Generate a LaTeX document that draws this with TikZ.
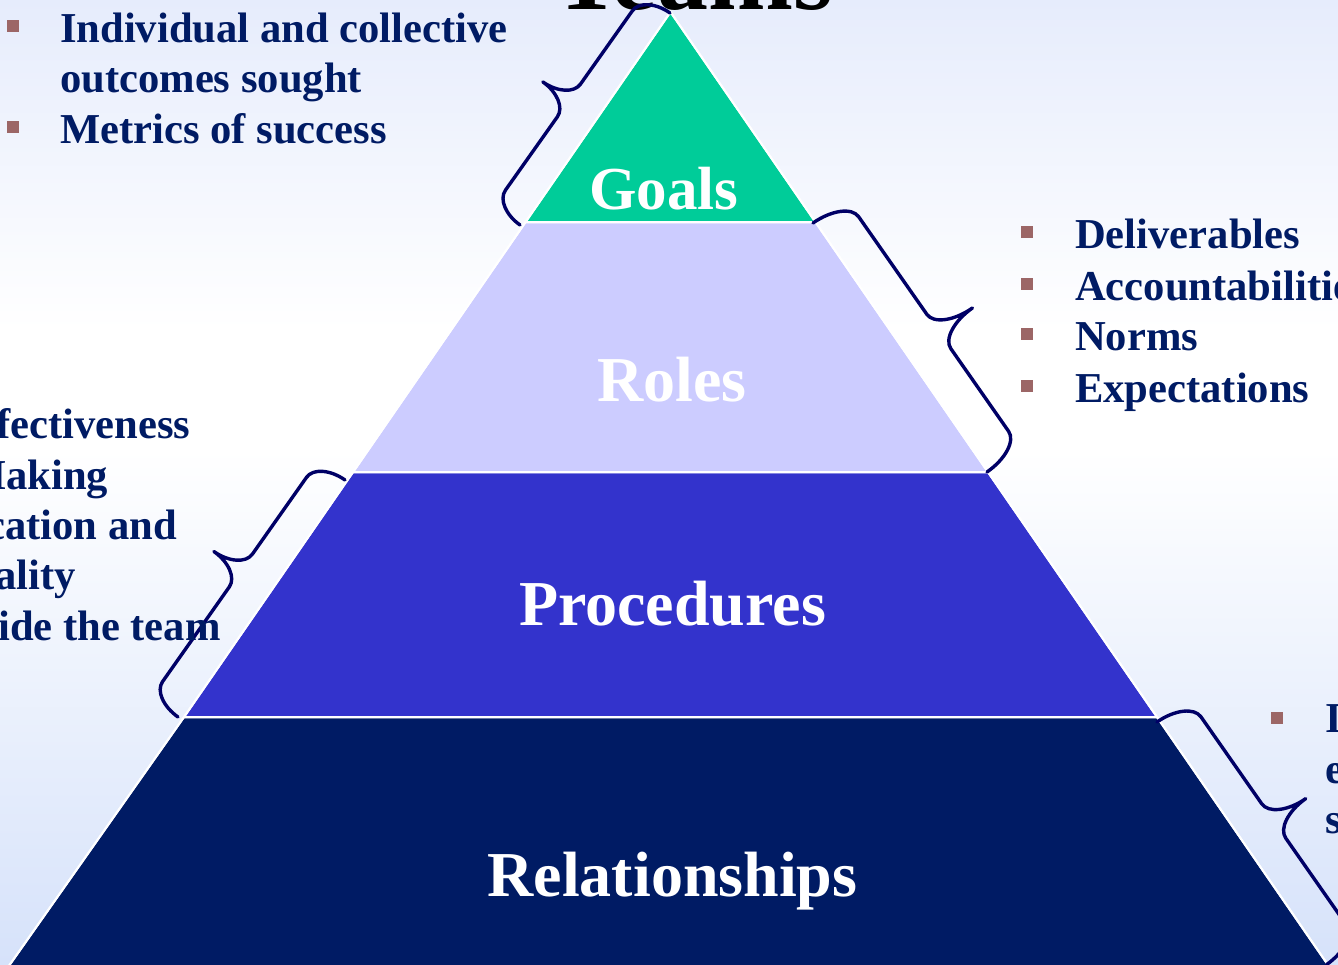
\documentclass[tikz,border=0pt]{standalone}
\usepackage{fontspec}
\setmainfont{Liberation Serif}
\definecolor{navytext}{RGB}{0,27,100}
\definecolor{bracecol}{RGB}{0,0,102}
\definecolor{bulletcol}{RGB}{156,102,102}
\definecolor{goalcol}{RGB}{0,204,153}
\definecolor{rolecol}{RGB}{204,204,255}
\definecolor{proccol}{RGB}{51,51,204}
\definecolor{relcol}{RGB}{0,27,100}
\definecolor{bgtop}{RGB}{230,236,252}
\definecolor{bgbot}{RGB}{214,226,250}
\newcommand\drawbrace[4]{% r h m L
  \draw[bracestyle] (0,0) .. controls (0,{0.552*#2}) and ({0.448*#1},#2) .. (#1,#2)
    -- ({#3-#1},#2) .. controls ({#3-0.448*#1},#2) and (#3,{1.448*#2}) .. (#3,{2*#2})
    .. controls (#3,{1.448*#2}) and ({#3+0.448*#1},#2) .. ({#3+#1},#2)
    -- ({#4-#1},#2) .. controls ({#4-0.448*#1},#2) and (#4,{0.552*#2}) .. (#4,0);}
\begin{document}
\begin{tikzpicture}[x=1pt,y=-1pt,
  bracestyle/.style={draw=bracecol, line width=3.4pt, line cap=round, line join=round},
  layer/.style={draw=white, line width=2pt, line join=miter},
  bt/.style={anchor=base west, inner sep=0pt, text=navytext, font=\fontsize{42.6}{50}\selectfont\bfseries},
  bul/.style={rectangle, fill=bulletcol, draw=none, minimum size=12pt, inner sep=0pt},
  lay/.style={anchor=base, inner sep=0pt, text=white, font=\fontsize{64}{72}\selectfont\bfseries}]
\useasboundingbox (0,0) rectangle (1338,964);
\clip (0,0) rectangle (1338,964);
% background
\shade[top color=bgtop, bottom color=white] (0,0) rectangle (1338,330);
\fill[white] (0,329) rectangle (1338,450);
\shade[top color=white, bottom color=bgbot] (0,449) rectangle (1338,964);
% title
\node[anchor=base, inner sep=0pt, font=\fontsize{102}{110}\selectfont\bfseries] (title) at (693,9) {Teams};
% pyramid layers
\fill[layer, fill=relcol] (184.05,717) -- (1156.95,717) -- (1357,1007) -- (-20,1007) -- cycle;
\fill[layer, fill=proccol] (353.1,472) -- (987.9,472) -- (1156.95,717) -- (184.05,717) -- cycle;
\fill[layer, fill=rolecol] (525.6,222) -- (815.4,222) -- (987.9,472) -- (353.1,472) -- cycle;
\fill[layer, fill=goalcol] (670.5,12) -- (815.4,222) -- (525.6,222) -- cycle;
\draw[layer] (184.05,717) -- (1156.95,717) -- (1357,1007) -- (-20,1007) -- cycle;
\draw[layer] (353.1,472) -- (987.9,472) -- (1156.95,717) -- (184.05,717) -- cycle;
\draw[layer] (525.6,222) -- (815.4,222) -- (987.9,472) -- (353.1,472) -- cycle;
\draw[layer] (670.5,12) -- (815.4,222) -- (525.6,222) -- cycle;
% layer labels
\node[lay, font=\fontsize{61}{68}\selectfont\bfseries] (goals) at (664,209) {Goals};
\node[lay] (roles) at (672,401) {Roles};
\node[lay] (procedures) at (672.5,625) {Procedures};
\node[lay] (relationships) at (672.5,896) {Relationships};
% braces
\begin{scope}[shift={(520,225)}, x={(0.5776pt,0.8163pt)}, y={(-0.8163pt,0.5776pt)}]
  \drawbrace{20}{32}{130}{259.7}
\end{scope}
\begin{scope}[shift={(813,223)}, x={(0.5728pt,-0.8196pt)}, y={(0.8196pt,0.5728pt)}]
  \drawbrace{21}{41}{161}{303.8}
\end{scope}
\begin{scope}[shift={(345,480)}, x={(-0.5759pt,-0.8172pt)}, y={(-0.8172pt,0.5759pt)}]
  \drawbrace{20}{33}{134}{290}
\end{scope}
\begin{scope}[shift={(1157,722)}, x={(0.5728pt,-0.8196pt)}, y={(0.8196pt,0.5728pt)}]
  \drawbrace{21}{39}{148}{296}
\end{scope}
% top-left text (Goals)
\node[bul] (gb1) at (12.5,26) {};
\node[bt] (gt1) at (60,42) {Individual and collective};
\node[bt] (gt1b) at (60,92.5) {outcomes sought};
\node[bul] (gb2) at (12.5,127) {};
\node[bt] (gt2) at (60,143) {Metrics of success};
% right text (Roles)
\node[bul] (rb1) at (1027,232) {};
\node[bt] (rt1) at (1075,248) {Deliverables};
\node[bul] (rb2) at (1027,284) {};
\node[bt] (rt2) at (1075,300) {Accountabilities};
\node[bul] (rb3) at (1027,334) {};
\node[bt] (rt3) at (1075,350) {Norms};
\node[bul] (rb4) at (1027,386) {};
\node[bt] (rt4) at (1075,402) {Expectations};
% left text (Procedures), cut by the frame
\node[bt] (pt1) at (-4,438) {fectiveness};
\node[bt] (pt2) at (-34,489) {Making};
\node[bt] (pt3) at (-14,539) {cation and};
\node[bt] (pt4) at (-5,589) {ality};
\node[bt] (pt5) at (-2,640) {ide the team};
% bottom-right text (Relationships), cut by the frame
\node[bul] (lb1) at (1276.5,717.5) {};
\node[bt] (lt1) at (1325,732) {I};
\node[bt] (lt2) at (1325,783) {e};
\node[bt] (lt3) at (1325,833) {s};
\end{tikzpicture}
\end{document}
